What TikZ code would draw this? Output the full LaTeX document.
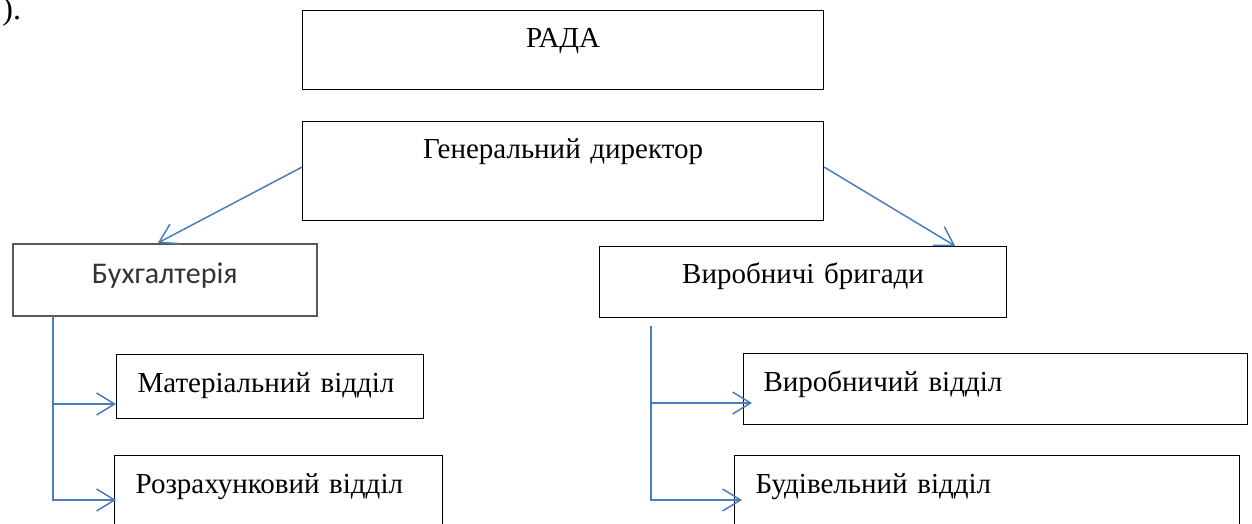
\documentclass[tikz,border=0pt]{standalone}
\usepackage{fontspec}
\setmainfont{Liberation Serif}
\newfontfamily\carlito{Carlito}
\usetikzlibrary{arrows.meta}
\definecolor{lineblue}{RGB}{74,126,187}

\begin{document}
\begin{tikzpicture}[x=0.5pt, y=-0.5pt,
	box/.style={draw, line width=0.6pt, anchor=north west, inner ysep=0pt, font=\fontsize{14.5}{17}\selectfont},
	mid/.style={box, inner xsep=0pt, align=center},
	side/.style={box, inner xsep=10.5pt, align=left},
	link/.style={lineblue, line width=0.75pt, -{Straight Barb[length=9pt, width=11pt]}}]
	\useasboundingbox (0,0) rectangle (1252,524);

	\node[anchor=base west, inner sep=0pt, font=\fontsize{16}{19}\selectfont] (t0) at (2,20) {).};

	\node[mid, text width=260.5pt, text height=18.5pt, text depth=21pt] (a1) at (302,10) {РАДА};
	\node[mid, text width=260.5pt, text height=18.5pt, text depth=31pt] (a2) at (302,121) {Генеральний директор};
	\node[mid, draw=black!65, line width=0.8pt, text=black!80, font=\carlito\fontsize{15}{18}\selectfont, text width=152pt, text height=20pt, text depth=16pt] (b1) at (12,243) {Бухгалтерія};
	\node[mid, text width=203.5pt, text height=18.5pt, text depth=17pt] (c1) at (599,246) {Виробничі бригади};
	\node[side, text width=132.5pt, text height=19pt, text depth=13pt] (b2) at (116,354) {Матеріальний відділ};
	\node[side, text width=143pt, text height=19pt, text depth=23.5pt] (b3) at (114,455) {Розрахунковий відділ};
	\node[side, inner xsep=10pt, text width=232pt, text height=19pt, text depth=16.5pt] (c2) at (743,353) {Виробничий відділ};
	\node[side, text width=231.5pt, text height=19pt, text depth=23.5pt] (c3) at (734,455) {Будівельний відділ};

	\coordinate (b4) at (53,316);
	\coordinate (b5) at (116,404);
	\coordinate (b6) at (116,500);
	\coordinate (c4) at (651,326);
	\coordinate (c5) at (752,403);
	\coordinate (c6) at (742,500);

	\draw[link] ([yshift=2pt]a2.west) -- ([xshift=-3.5pt]b1.north);
	\draw[link] ([yshift=2pt]a2.east) -- ([xshift=-26pt]c1.north east);
	\draw[link] (b4) |- (b6);
	\draw[link] (b4 |- b5) -- (b5);
	\draw[link] (c4) |- (c6);
	\draw[link] (c4 |- c5) -- (c5);
\end{tikzpicture}
\end{document}
